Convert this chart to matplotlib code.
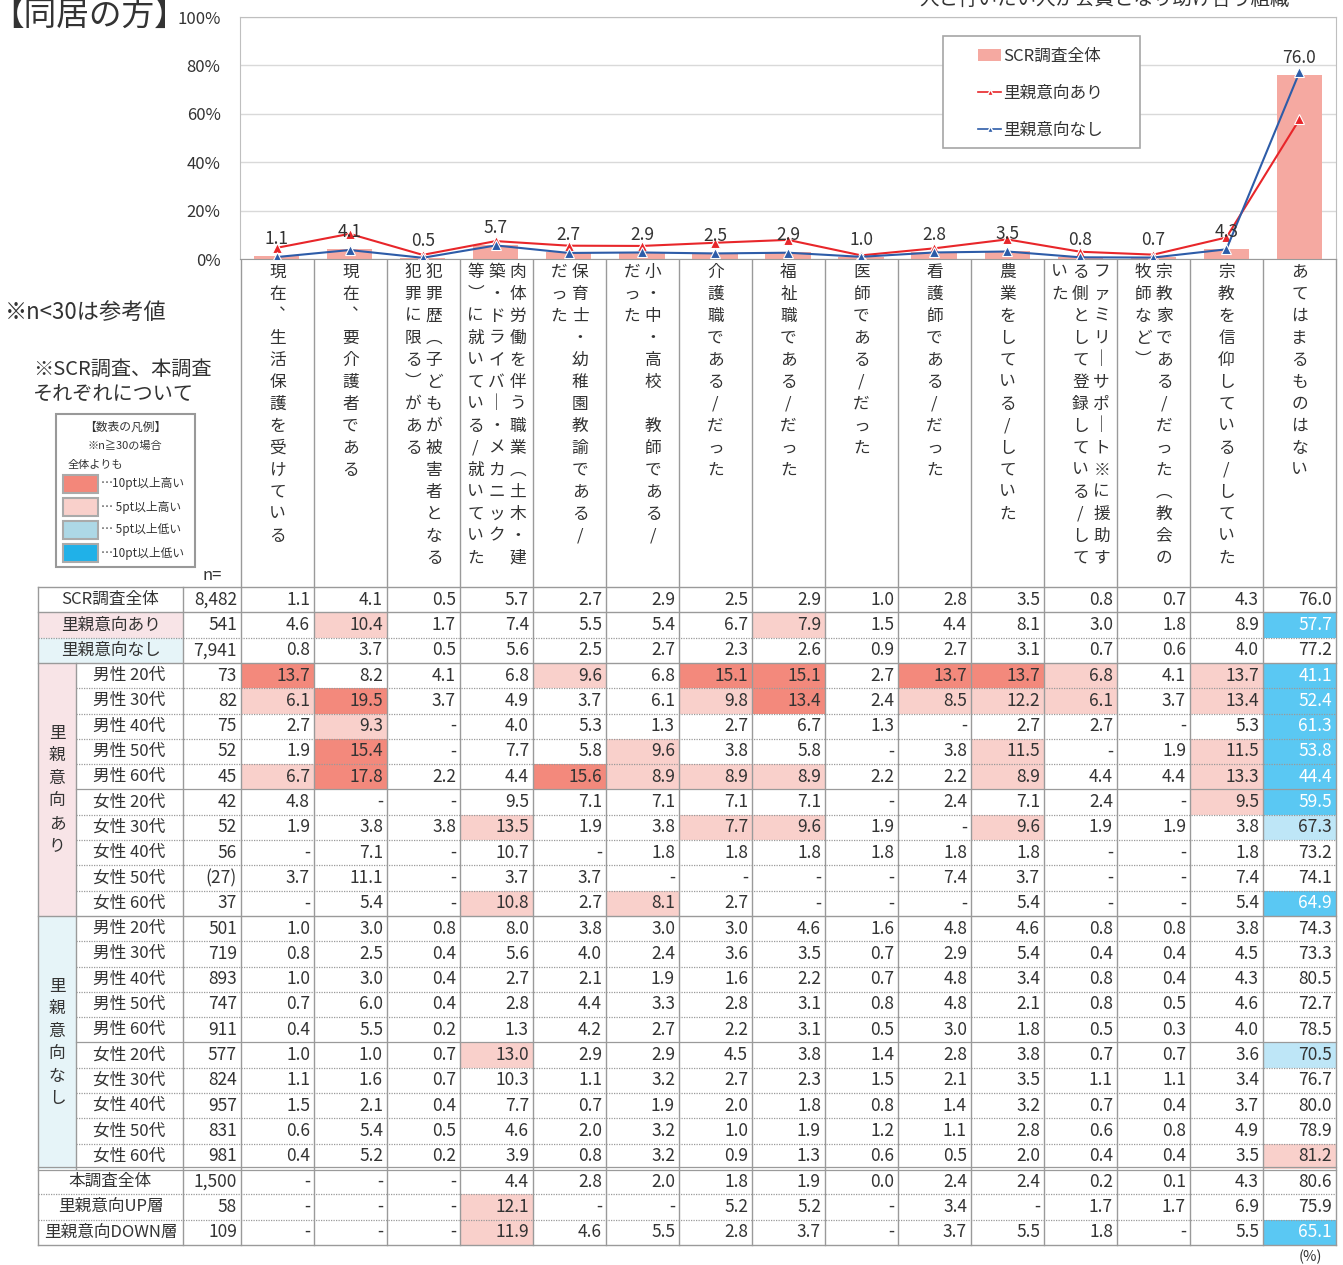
import matplotlib.pyplot as plt
from matplotlib.patches import Rectangle, Patch
from matplotlib.lines import Line2D

plt.rcParams['font.family'] = ['Noto Sans CJK JP', 'DejaVu Sans']

W, H = 1343, 1265

# vertical header labels, each inner list = text columns from right to left
category_cols = [
    ["現在︑生活保護を受けている"],
    ["現在︑要介護者である"],
    ["犯罪歴︵子どもが被害者となる", "犯罪に限る︶がある"],
    ["肉体労働を伴う職業︵土木・建", "築・ドライバー・メカニック", "等︶に就いている/就いていた"],
    ["保育士・幼稚園教諭である/", "だった"],
    ["小・中・高校　教師である/", "だった"],
    ["介護職である/だった"],
    ["福祉職である/だった"],
    ["医師である/だった"],
    ["看護師である/だった"],
    ["農業をしている/していた"],
    ["ファミリーサポート※に援助す", "る側として登録している/して", "いた"],
    ["宗教家である/だった︵教会の", "牧師など︶"],
    ["宗教を信仰している/していた"],
    ["あてはまるものはない"],
]

scr_all = [1.1, 4.1, 0.5, 5.7, 2.7, 2.9, 2.5, 2.9, 1.0, 2.8, 3.5, 0.8, 0.7, 4.3, 76.0]
ari = [4.6, 10.4, 1.7, 7.4, 5.5, 5.4, 6.7, 7.9, 1.5, 4.4, 8.1, 3.0, 1.8, 8.9, 57.7]
nashi = [0.8, 3.7, 0.5, 5.6, 2.5, 2.7, 2.3, 2.6, 0.9, 2.7, 3.1, 0.7, 0.6, 4.0, 77.2]

top_labels = ["SCR調査全体", "里親意向あり", "里親意向なし"]
top_n = [8482, 541, 7941]
top_marks = ["...............", ".r.....r......B", "..............."]

seg_labels = ["男性 20代", "男性 30代", "男性 40代", "男性 50代", "男性 60代",
              "女性 20代", "女性 30代", "女性 40代", "女性 50代", "女性 60代"]

ari_n = [73, 82, 75, 52, 45, 42, 52, 56, 27, 37]
ari_vals = [
    [13.7, 8.2, 4.1, 6.8, 9.6, 6.8, 15.1, 15.1, 2.7, 13.7, 13.7, 6.8, 4.1, 13.7, 41.1],
    [6.1, 19.5, 3.7, 4.9, 3.7, 6.1, 9.8, 13.4, 2.4, 8.5, 12.2, 6.1, 3.7, 13.4, 52.4],
    [2.7, 9.3, None, 4.0, 5.3, 1.3, 2.7, 6.7, 1.3, None, 2.7, 2.7, None, 5.3, 61.3],
    [1.9, 15.4, None, 7.7, 5.8, 9.6, 3.8, 5.8, None, 3.8, 11.5, None, 1.9, 11.5, 53.8],
    [6.7, 17.8, 2.2, 4.4, 15.6, 8.9, 8.9, 8.9, 2.2, 2.2, 8.9, 4.4, 4.4, 13.3, 44.4],
    [4.8, None, None, 9.5, 7.1, 7.1, 7.1, 7.1, None, 2.4, 7.1, 2.4, None, 9.5, 59.5],
    [1.9, 3.8, 3.8, 13.5, 1.9, 3.8, 7.7, 9.6, 1.9, None, 9.6, 1.9, 1.9, 3.8, 67.3],
    [None, 7.1, None, 10.7, None, 1.8, 1.8, 1.8, 1.8, 1.8, 1.8, None, None, 1.8, 73.2],
    [3.7, 11.1, None, 3.7, 3.7, None, None, None, None, 7.4, 3.7, None, None, 7.4, 74.1],
    [None, 5.4, None, 10.8, 2.7, 8.1, 2.7, None, None, None, 5.4, None, None, 5.4, 64.9],
]
ari_marks = ["R...r.RR.RRr.rB", "rR....rR.rrr.rB", ".r............B", ".R...r....r..rB",
             "rR..Rrrr..r..rB", ".............rB", "...r..rr..r...b", "...............",
             "...............", "...r.r........B"]

nashi_n = [501, 719, 893, 747, 911, 577, 824, 957, 831, 981]
nashi_vals = [
    [1.0, 3.0, 0.8, 8.0, 3.8, 3.0, 3.0, 4.6, 1.6, 4.8, 4.6, 0.8, 0.8, 3.8, 74.3],
    [0.8, 2.5, 0.4, 5.6, 4.0, 2.4, 3.6, 3.5, 0.7, 2.9, 5.4, 0.4, 0.4, 4.5, 73.3],
    [1.0, 3.0, 0.4, 2.7, 2.1, 1.9, 1.6, 2.2, 0.7, 4.8, 3.4, 0.8, 0.4, 4.3, 80.5],
    [0.7, 6.0, 0.4, 2.8, 4.4, 3.3, 2.8, 3.1, 0.8, 4.8, 2.1, 0.8, 0.5, 4.6, 72.7],
    [0.4, 5.5, 0.2, 1.3, 4.2, 2.7, 2.2, 3.1, 0.5, 3.0, 1.8, 0.5, 0.3, 4.0, 78.5],
    [1.0, 1.0, 0.7, 13.0, 2.9, 2.9, 4.5, 3.8, 1.4, 2.8, 3.8, 0.7, 0.7, 3.6, 70.5],
    [1.1, 1.6, 0.7, 10.3, 1.1, 3.2, 2.7, 2.3, 1.5, 2.1, 3.5, 1.1, 1.1, 3.4, 76.7],
    [1.5, 2.1, 0.4, 7.7, 0.7, 1.9, 2.0, 1.8, 0.8, 1.4, 3.2, 0.7, 0.4, 3.7, 80.0],
    [0.6, 5.4, 0.5, 4.6, 2.0, 3.2, 1.0, 1.9, 1.2, 1.1, 2.8, 0.6, 0.8, 4.9, 78.9],
    [0.4, 5.2, 0.2, 3.9, 0.8, 3.2, 0.9, 1.3, 0.6, 0.5, 2.0, 0.4, 0.4, 3.5, 81.2],
]
nashi_marks = ["...............", "...............", "...............", "...............",
               "...............", "...r..........b", "...............", "...............",
               "...............", "..............r"]

bottom_labels = ["本調査全体", "里親意向UP層", "里親意向DOWN層"]
bottom_n = [1500, 58, 109]
bottom_vals = [
    [None, None, None, 4.4, 2.8, 2.0, 1.8, 1.9, 0.0, 2.4, 2.4, 0.2, 0.1, 4.3, 80.6],
    [None, None, None, 12.1, None, None, 5.2, 5.2, None, 3.4, None, 1.7, 1.7, 6.9, 75.9],
    [None, None, None, 11.9, 4.6, 5.5, 2.8, 3.7, None, 3.7, 5.5, 1.8, None, 5.5, 65.1],
]
bottom_marks = ["...............", "...r...........", "...r..........B"]

legend_keys = ["…10pt以上高い", "… 5pt以上高い", "… 5pt以上低い", "…10pt以上低い"]

# colours
BAR = '#F5A9A1'
RED = '#E8262A'
BLUE = '#2D5CA8'
TXT = '#333333'
LINE = '#9A9A9A'
MARK_COL = {'R': '#F3897C', 'r': '#F9D0CB', 'b': '#BEE6F7', 'B': '#5AC8F3'}
LEGEND_SW = ['#F3877A', '#F9D0CB', '#ADD8E6', '#20B1E8']
PINK_BG = '#F8E4E7'
CYAN_BG = '#E6F4F8'

fig = plt.figure(figsize=(W / 100, H / 100), dpi=100)
bg = fig.add_axes([0, 0, 1, 1])
bg.set_xlim(0, W)
bg.set_ylim(H, 0)
bg.axis('off')

# ---------- chart ----------
ax_l, ax_r, ax_t, ax_b = 240, 1336, 17, 259
ax = fig.add_axes([ax_l / W, 1 - ax_b / H, (ax_r - ax_l) / W, (ax_b - ax_t) / H])
x = list(range(len(scr_all)))
ax.bar(x, scr_all, width=0.62, color=BAR, zorder=2)
ax.plot(x, ari, color=RED, lw=1.5, marker='^', ms=6.5, mfc=RED, mec='white', mew=0.8, zorder=3)
ax.plot(x, nashi, color=BLUE, lw=1.5, marker='^', ms=6.5, mfc=BLUE, mec='white', mew=0.8, zorder=3)
for i, v in enumerate(scr_all):
    ax.annotate(f"{v:.1f}", (i, v), xytext=(0, 17), textcoords='offset pixels',
                ha='center', va='center', fontsize=12.5, color=TXT, zorder=4)
ax.set_xlim(-0.5, len(scr_all) - 0.5)
ax.set_ylim(0, 100)
ax.set_yticks(range(0, 101, 20))
ax.set_yticklabels([f"{t}%" for t in range(0, 101, 20)], fontsize=12, color=TXT)
ax.tick_params(axis='y', length=0, pad=14)
ax.set_xticks([])
ax.yaxis.grid(True, color='#D9D9D9', lw=1)
ax.set_axisbelow(True)
for s in ax.spines.values():
    s.set_color('#BFBFBF')
ax.spines['bottom'].set_color(LINE)

fig.add_artist(Rectangle((943 / W, 1 - 148 / H), (1140 - 943) / W, (148 - 36) / H,
                         transform=fig.transFigure, facecolor='white', edgecolor='#A6A6A6', lw=1.2))
handles = [Patch(facecolor=BAR),
           Line2D([], [], color=RED, lw=1.2, marker='^', ms=5, mfc=RED, mec='white'),
           Line2D([], [], color=BLUE, lw=1.2, marker='^', ms=5, mfc=BLUE, mec='white')]
fig.legend(handles, ["SCR調査全体", "里親意向あり", "里親意向なし"], loc='upper left',
           bbox_to_anchor=(963 / W, 1 - 33 / H), frameon=False, fontsize=12,
           labelspacing=1.2, handlelength=1.4, handletextpad=0.1, labelcolor=TXT)

# ---------- header (vertical labels) ----------
col_x0, col_w = 241, 73.0
hdr_top, tbl_top, row_h = 259, 587, 25.3
for i, cols in enumerate(category_cols):
    cx = col_x0 + (i + 0.5) * col_w
    n = len(cols)
    for k, col in enumerate(cols):
        dx = (n - 1) / 2 * 21 - k * 21
        for j, ch in enumerate(col.replace('ー', '｜')):
            bg.text(cx + dx, 272 + 22 * j, ch, ha='center', va='center', fontsize=12, color=TXT)

# ---------- table ----------
rows = []
for lab, n, v, m in zip(top_labels, top_n, [scr_all, ari, nashi], top_marks):
    rows.append(('top', lab, n, v, m))
for lab, n, v, m in zip(seg_labels, ari_n, ari_vals, ari_marks):
    rows.append(('ari', lab, n, v, m))
for lab, n, v, m in zip(seg_labels, nashi_n, nashi_vals, nashi_marks):
    rows.append(('nashi', lab, n, v, m))
for lab, n, v, m in zip(bottom_labels, bottom_n, bottom_vals, bottom_marks):
    rows.append(('bottom', lab, n, v, m))

tbl_bot = tbl_top + len(rows) * row_h
x_lab, x_sub, x_n = 38, 76, 183
FS = 12.5

# group label blocks
g_ari = [r for r, row in enumerate(rows) if row[0] == 'ari']
g_nashi = [r for r, row in enumerate(rows) if row[0] == 'nashi']
for grp, colr, txt in [(g_ari, PINK_BG, "里親意向あり"), (g_nashi, CYAN_BG, "里親意向なし")]:
    y0 = tbl_top + grp[0] * row_h
    y1 = tbl_top + (grp[-1] + 1) * row_h
    bg.add_patch(Rectangle((x_lab, y0), x_sub - x_lab, y1 - y0, facecolor=colr, edgecolor='none'))
    yc = (y0 + y1) / 2
    for j, ch in enumerate(txt):
        bg.text((x_lab + x_sub) / 2, yc + (j - (len(txt) - 1) / 2) * 22.5, ch,
                ha='center', va='center', fontsize=12, color=TXT)

for r, (kind, lab, n, vals, marks) in enumerate(rows):
    y0 = tbl_top + r * row_h
    yc = y0 + row_h / 2
    if kind == 'top' and lab == "里親意向あり":
        bg.add_patch(Rectangle((x_lab, y0), x_n - x_lab, row_h, facecolor=PINK_BG, edgecolor='none'))
    if kind == 'top' and lab == "里親意向なし":
        bg.add_patch(Rectangle((x_lab, y0), x_n - x_lab, row_h, facecolor=CYAN_BG, edgecolor='none'))
    if kind in ('top', 'bottom'):
        bg.text((x_lab + x_n) / 2, yc, lab, ha='center', va='center', fontsize=12, color=TXT)
    else:
        bg.text((x_sub + x_n) / 2, yc, lab, ha='center', va='center', fontsize=12, color=TXT)
    ntxt = f"({n})" if n < 30 else f"{n:,}"
    bg.text(col_x0 - 4, yc, ntxt, ha='right', va='center', fontsize=FS, color=TXT)
    for c, v in enumerate(vals):
        cx0 = col_x0 + c * col_w
        m = marks[c]
        if m in MARK_COL:
            bg.add_patch(Rectangle((cx0, y0), col_w, row_h, facecolor=MARK_COL[m], edgecolor='none'))
        s = '-' if v is None else f"{v:.1f}"
        bg.text(cx0 + col_w - 4, yc, s, ha='right', va='center', fontsize=FS,
                color='white' if m == 'B' else TXT)

# horizontal lines
for r in range(len(rows) + 1):
    y = tbl_top + r * row_h
    prev = rows[r - 1][0] if r > 0 else None
    cur = rows[r][0] if r < len(rows) else None
    if prev == cur and cur in ('ari', 'nashi'):
        k = [i for i, row in enumerate(rows) if row[0] == cur].index(r)
        ls = '-' if k == 5 else (0, (1, 1))
        bg.plot([x_sub, ax_r], [y, y], color=LINE, lw=0.9, ls=ls)
    elif prev == 'nashi' and cur == 'bottom':
        bg.plot([x_lab, ax_r], [y - 1.5, y - 1.5], color=LINE, lw=0.9)
        bg.plot([x_lab, ax_r], [y + 1.5, y + 1.5], color=LINE, lw=0.9)
    elif prev == cur and r != 1:
        bg.plot([x_lab, ax_r], [y, y], color=LINE, lw=0.9, ls=(0, (1, 1)))
    else:
        bg.plot([x_lab, ax_r], [y, y], color=LINE, lw=1.0)

# vertical lines
for xv in [x_lab, x_n]:
    bg.plot([xv, xv], [tbl_top, tbl_bot], color=LINE, lw=1.0)
bg.plot([x_sub, x_sub], [tbl_top + g_ari[0] * row_h, tbl_top + (g_nashi[-1] + 1) * row_h], color=LINE, lw=1.0)
for k in range(len(scr_all) + 1):
    xv = col_x0 + k * col_w
    bg.plot([xv, xv], [hdr_top, tbl_bot], color=LINE, lw=1.0)

# ---------- side notes ----------
bg.text(-9, 16, "【同居の方】", ha='left', va='center', fontsize=23.5, color=TXT)
bg.text(1105, -1, "人と行いたい人が会員となり助け合う組織", ha='center', va='center', fontsize=14, color=TXT)
bg.text(5, 312, "※n<30は参考値", ha='left', va='center', fontsize=16, color=TXT)
bg.text(33, 369, "※SCR調査、本調査", ha='left', va='center', fontsize=14.5, color=TXT)
bg.text(33, 394, "それぞれについて", ha='left', va='center', fontsize=14.5, color=TXT)

bg.add_patch(Rectangle((56, 414), 139, 153, facecolor='white', edgecolor='#999999', lw=1.5))
bg.text(125, 427, "【数表の凡例】", ha='center', va='center', fontsize=8.5, color=TXT)
bg.text(125, 446, "※n≧30の場合", ha='center', va='center', fontsize=8, color=TXT)
bg.text(68, 465, "全体よりも", ha='left', va='center', fontsize=8, color=TXT)
for k, (lab, colr) in enumerate(zip(legend_keys, LEGEND_SW)):
    y0 = 475 + k * 23
    bg.add_patch(Rectangle((63, y0), 35, 18, facecolor=colr, edgecolor='#AAAAAA', lw=1.5))
    bg.text(101, y0 + 9, lab, ha='left', va='center', fontsize=8.5, color=TXT)

bg.text(212, 576, "n=", ha='center', va='center', fontsize=12, color=TXT)
bg.text(1310, 1257, "(%)", ha='center', va='center', fontsize=10.5, color=TXT)

fig.savefig("out.png", dpi=100)
